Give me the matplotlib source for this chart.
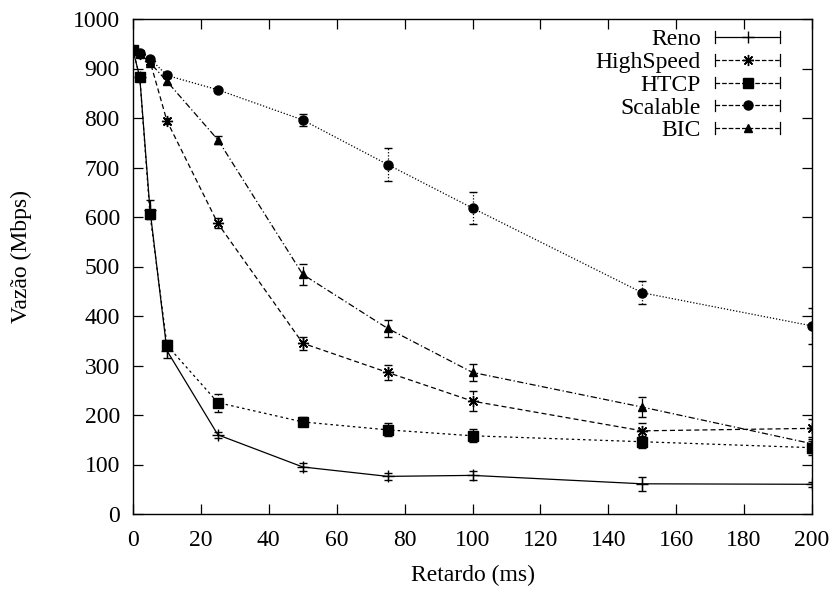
import matplotlib
matplotlib.use("Agg")
import matplotlib.pyplot as plt
from matplotlib.legend_handler import HandlerBase
from matplotlib.lines import Line2D

plt.rcParams['font.family'] = ['Liberation Serif', 'DejaVu Serif']
plt.rcParams['font.size'] = 17

delays = [0, 2, 5, 10, 25, 50, 75, 100, 150, 200]

reno = [937, 882, 615, 330, 160, 95, 76, 78, 61, 60]
reno_err = [3, 4, 20, 14, 6, 8, 7, 9, 14, 5]

highspeed = [937, 930, 915, 794, 587, 345, 286, 228, 168, 173]
highspeed_err = [3, 4, 6, 6, 10, 13, 16, 20, 16, 18]

htcp = [938, 882, 606, 341, 225, 186, 170, 158, 146, 134]
htcp_err = [3, 4, 8, 10, 18, 9, 13, 13, 12, 14]

scalable = [937, 932, 920, 886, 857, 796, 706, 618, 447, 380]
scalable_err = [3, 3, 4, 5, 4, 13, 34, 33, 23, 36]

bic = [937, 930, 912, 874, 756, 484, 375, 286, 216, 142]
bic_err = [3, 3, 5, 6, 8, 21, 17, 17, 21, 10]

series = [
    ("Reno", reno, reno_err, '-', '+', 8),
    ("HighSpeed", highspeed, highspeed_err, (0, (4, 2.5)), (8, 2, 0), 8),
    ("HTCP", htcp, htcp_err, (0, (2, 2.5)), 's', 6.5),
    ("Scalable", scalable, scalable_err, (0, (1, 1.5)), 'o', 6.5),
    ("BIC", bic, bic_err, (0, (5, 2, 1, 2)), '^', 5.5),
]

fig = plt.figure(figsize=(8.32, 5.90), dpi=100)
ax = fig.add_axes([133/832, 1 - 514/590, (812-133)/832, (514-19)/590])

handles = []
for name, vals, errs, ls, mk, ms in series:
    c = ax.errorbar(delays, vals, yerr=errs, color='black', linestyle=ls, linewidth=0.9,
                    marker=mk, markersize=ms, markeredgewidth=1.0, capsize=3,
                    elinewidth=0.9, capthick=0.9, label=name)
    c[2][0].set_linestyle(ls)
    h = Line2D([], [], color='black', linestyle=ls, linewidth=0.9, marker=mk,
               markersize=ms, markeredgewidth=1.0)
    handles.append(h)


class HandlerGP(HandlerBase):
    def create_artists(self, legend, orig_handle, xdescent, ydescent, width, height,
                       fontsize, trans):
        y = height / 2 - ydescent
        x0, x1 = -xdescent, -xdescent + width
        line = Line2D([x0, x1], [y, y], color='black', linestyle=orig_handle.get_linestyle(),
                      linewidth=0.9)
        cap = height * 0.35
        c1 = Line2D([x0, x0], [y - cap, y + cap], color='black', linewidth=0.9)
        c2 = Line2D([x1, x1], [y - cap, y + cap], color='black', linewidth=0.9)
        m = Line2D([(x0 + x1) / 2], [y], color='black', linestyle='none',
                   marker=orig_handle.get_marker(), markersize=orig_handle.get_markersize(),
                   markeredgewidth=1.0)
        arts = [line, c1, c2, m]
        for a in arts:
            a.set_transform(trans)
        return arts


ax.legend(handles=handles, labels=[s[0] for s in series],
          handler_map={Line2D: HandlerGP()}, loc='upper right',
          bbox_to_anchor=(0.967, 0.999), frameon=False, markerfirst=False,
          handlelength=2.75, handletextpad=0.6, labelspacing=0.05, borderaxespad=0)

ax.set_xlim(0, 200)
ax.set_ylim(0, 1000)
ax.set_xticks(range(0, 201, 20))
ax.set_yticks(range(0, 1001, 100))
ax.tick_params(direction='in', top=True, right=True, length=7, width=0.9)
ax.tick_params(axis='x', pad=11.3)
ax.tick_params(axis='y', pad=9.5)
for s in ax.spines.values():
    s.set_linewidth(1.0)
ax.set_xlabel("Retardo (ms)", labelpad=10)
ax.set_ylabel("Vazão (Mbps)")
ax.yaxis.set_label_coords(-0.149, 0.52)

fig.savefig("out.png", dpi=100)
